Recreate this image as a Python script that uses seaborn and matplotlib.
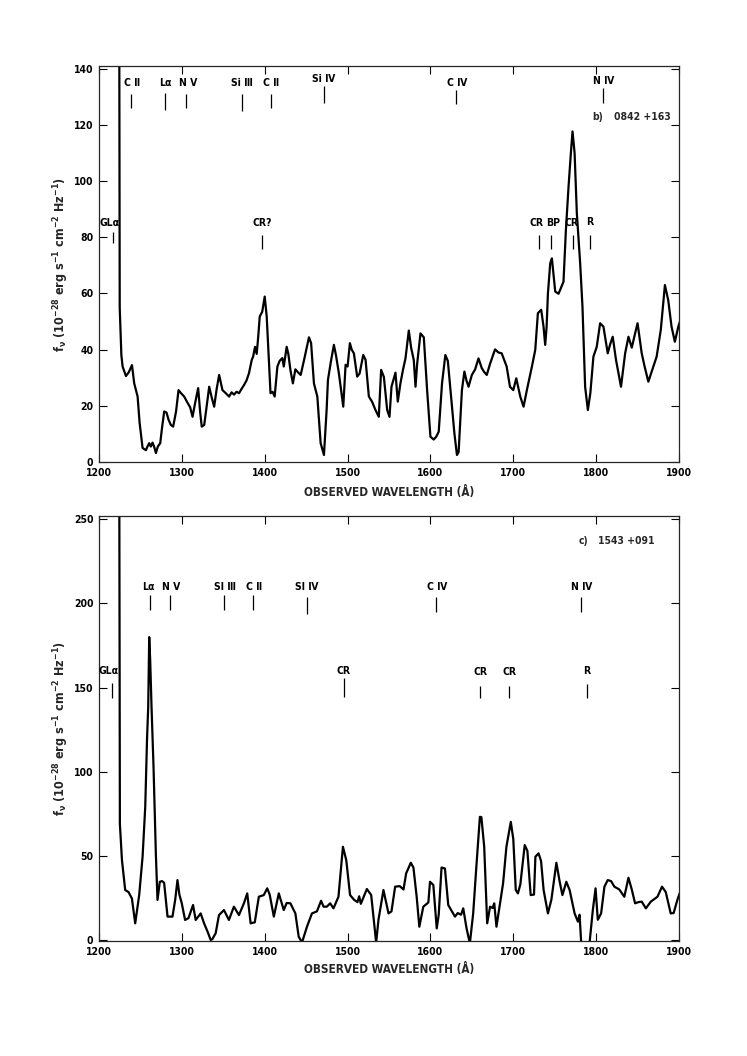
import numpy as np
import pandas as pd
import matplotlib
matplotlib.use("Agg")
import matplotlib.pyplot as plt
import seaborn as sns

# ---------------- data: panel b) 0842+163 ----------------
wave_b = [1224.5, 1225.0, 1226.0, 1227.0, 1228.5, 1232.5, 1236, 1239.8, 1242.5, 1246.6, 1249, 1252.6, 1256.6,
          1258.5, 1260.6, 1262.5, 1264.6, 1266.5, 1268.7, 1271, 1273.9, 1276, 1278.7, 1281.5, 1284, 1286.7,
          1289.5, 1293, 1296, 1299, 1302.8, 1307, 1310, 1312.9, 1316, 1319.7, 1322, 1324, 1327, 1330, 1333,
          1336, 1339, 1342, 1345, 1349, 1353, 1357, 1360, 1363, 1366, 1369, 1372, 1375, 1378, 1381, 1384.3,
          1386, 1388.3, 1390.3, 1392, 1394, 1397, 1400, 1402.4, 1405, 1407, 1409.5, 1412, 1415.3, 1418,
          1421.3, 1423, 1426.5, 1428.5, 1431, 1434, 1437, 1440, 1443.4, 1448, 1453.4, 1456, 1459.4, 1463.5,
          1467.5, 1471.5, 1474.7, 1476.3, 1480, 1483.5, 1486, 1489.5, 1494.8, 1497.6, 1500, 1502.8, 1505,
          1507.6, 1511.6, 1514.5, 1518.9, 1521.7, 1525.7, 1529.5, 1533.7, 1537.7, 1540.5, 1543.8, 1547.8,
          1550.6, 1553, 1557.8, 1560.6, 1563.8, 1567, 1569.9, 1573.9, 1576.7, 1579.9, 1582, 1584, 1588, 1592,
          1596, 1600, 1604, 1607, 1610, 1614, 1618, 1621, 1626, 1629, 1632, 1634, 1638, 1641, 1643.5, 1646,
          1650, 1654, 1658, 1662, 1665, 1668, 1672, 1678, 1682, 1686, 1692, 1696, 1700, 1703.6, 1708.4,
          1712.4, 1716.4, 1722.5, 1726.5, 1729.7, 1733.7, 1736.5, 1738.5, 1740.2, 1741.8, 1744.6, 1746.6,
          1750.6, 1754.6, 1760.6, 1763.5, 1766.7, 1769.5, 1771.5, 1774, 1776.7, 1780.7, 1783.5, 1786.7,
          1790, 1793, 1796.7, 1800.7, 1804.8, 1808.8, 1814, 1817, 1820, 1824, 1830, 1835, 1839, 1843, 1847,
          1850, 1855, 1858.5, 1863, 1868, 1873, 1878, 1883, 1887, 1891, 1895, 1899, 1903]
flux_b = [150, 55, 47, 38, 34, 30.6, 32, 34.5, 28, 23.3, 14, 5, 4.2,
          5.5, 6.7, 5.5, 6.9, 5.5, 3.2, 5.5, 6.7, 12, 18, 17.6, 15, 13.2,
          12.6, 18, 25.6, 24.5, 23.3, 21, 19.5, 16.1, 21, 26.3, 18, 12.6, 13.2, 20, 26.8,
          23, 19.7, 26, 31, 25.6, 24.5, 23.3, 24.8, 24, 25, 24.5, 26, 27.4, 29, 31.6, 36.3,
          37.5, 41, 38.5, 44, 51.8, 53.5, 58.9, 51.8, 36.3, 24.5, 25, 23.3, 34, 36,
          37, 34, 41, 38.5, 32.8, 28, 33, 32, 31, 37, 44.4, 42.3, 28, 23.3,
          6.7, 2.5, 18.5, 29.2, 36, 41.7, 38, 31.6, 19.7, 34.6, 34, 42.3, 40,
          38.7, 30.4, 31.5, 38.1, 36.4, 23.3, 21.5, 18.5, 16.1, 32.8, 30.3, 18.5,
          16.1, 26.8, 31.8, 21.5, 28, 33, 36.9, 46.8, 40.7, 36.3, 26.8, 35, 45.8, 44.4,
          25.6, 9, 8, 9, 10.8, 28, 38.1, 36, 19.7, 10, 2.5, 3.5, 25.6, 32.2, 29, 26.8,
          31, 33, 36.9, 33.4, 32, 31, 35, 40.1, 39, 38.7, 34, 26.8, 25.6, 29.8, 23.3,
          19.7, 25.6, 34, 39.9, 53, 54.2, 48.2, 41.7, 48, 60, 70.8, 72.5,
          60.7, 59.9, 64.2, 82.6, 98.1, 110, 117.7, 110, 88.6, 70.8, 55.3, 26.8,
          18.5, 24.5, 37.5, 41, 49.4, 48.2, 38.7, 42, 44.6, 36.3, 26.8, 38.7, 44.6, 40.7, 45.8,
          49.4, 38.7, 34, 28.6, 33, 37.5, 47, 63, 57.6, 48.2, 42.8, 48, 51.8]

# ---------------- data: panel c) 1543+091 ----------------
wave_c = [1224.5, 1225.2, 1227.7, 1231.6, 1235.6, 1239.7, 1243.7, 1248.5, 1252.6, 1255.8, 1258.0, 1259.4,
          1260.6, 1261.8, 1263.4, 1265.8, 1268.6, 1270.6, 1273.4, 1276, 1278.6, 1282.7, 1288.7, 1292,
          1294.7, 1297, 1299.9, 1303.9, 1308, 1313.5, 1316.7, 1322.7, 1326.8, 1331, 1334.8, 1336.8, 1340.8,
          1344.8, 1350.8, 1356.8, 1362.8, 1368.9, 1374.9, 1378.9, 1383, 1388, 1392.9, 1398.9, 1403, 1406,
          1411, 1417, 1423, 1426.5, 1431, 1437, 1441, 1445, 1451, 1457, 1463, 1468, 1471, 1475, 1479, 1483,
          1489, 1494.4, 1498.4, 1503, 1508, 1512, 1514, 1516, 1523.3, 1528.5, 1533.3, 1534.5, 1537.3,
          1543.3, 1549.4, 1553, 1557.4, 1563, 1567.5, 1570.7, 1576.3, 1579.5, 1583.4, 1586.6, 1591.4,
          1597.5, 1599.5, 1603.5, 1605.5, 1607.6, 1610, 1613.4, 1617.5, 1621.5, 1629.6, 1633, 1637, 1639.6,
          1643.6, 1647.6, 1651.6, 1655.7, 1659.7, 1661.5, 1664.9, 1668.5, 1672, 1675, 1677, 1679.7, 1683.5,
          1687.7, 1691.7, 1697, 1700, 1703, 1705.6, 1708.5, 1713.8, 1717, 1721, 1725, 1726.7, 1730.5,
          1733.5, 1736.6, 1741.8, 1746, 1752, 1756, 1759.3, 1764, 1768, 1774, 1778, 1780, 1782, 1792, 1796,
          1799.3, 1802, 1806, 1810, 1814, 1818, 1822, 1828, 1834, 1839, 1843, 1847, 1851, 1855, 1860, 1866,
          1874, 1879.5, 1884, 1890, 1893.5, 1898, 1901]
flux_c = [270, 69, 47.5, 29.7, 28.5, 24.7, 9.9, 26.7, 49.5, 79, 120, 138.5,
          180, 166, 138.5, 103, 51.5, 23.8, 34.6, 35, 34, 13.9, 13.9, 24,
          35.6, 27, 21.8, 11.9, 13, 20.8, 11.9, 15.8, 9.9, 5, 0, 0.5, 4,
          14.8, 17.8, 11.9, 19.8, 14.8, 21.8, 27.7, 9.9, 10.5, 25.7, 26.7, 30.7, 27,
          13.9, 27.7, 17.8, 22, 21.8, 15.8, 2, -1.5, 7.9, 15.8, 17, 23.3, 19.8, 19.8, 21.8, 18.8,
          25.7, 55.4, 47.5, 26.7, 23.8, 22.5, 26, 21.5, 30.3, 26.7, 4, -1.5, 12,
          29.7, 15.8, 17, 31.7, 32, 30, 39.6, 45.9, 43, 25.7, 7.9, 19.8,
          22.3, 34.6, 32.7, 20, 6.9, 15, 43.1, 42.5, 20.8, 13.9, 16, 15, 18.8,
          6.9, -2, 15.8, 45.5, 73.2, 73, 55.4, 9.9, 19.8, 19, 21.8, 7.9, 20,
          33.7, 55.4, 70.2, 60, 29.7, 27.7, 33, 56.4, 53, 26.7, 27, 49.5, 51.5,
          47, 29.7, 15.8, 24, 45.9, 34.6, 26.7, 34.6, 29.7, 15.8, 10.9, 15, -2, -2, 17.8,
          30.7, 12, 15.8, 31.7, 35.6, 35, 31.7, 30, 25.7, 37, 30, 21.8, 22.5, 22.8, 18.8, 22.8,
          25.7, 31.7, 28.5, 15.8, 16, 23.8, 28]

# ---------------- line identifications ----------------
# panel b: label, tick wavelength, label wavelength, text y, tick bottom, tick top
ids_b_label = ["C Ⅱ", "Lα", "N Ⅴ", "Si Ⅲ", "C Ⅱ", "Si Ⅳ", "C Ⅳ", "N Ⅳ",
               "GLα", "CR?", "CR", "BP", "CR", "R"]
ids_b_wave = [1238.5, 1280, 1305.6, 1372, 1407, 1471, 1631, 1808,
              1217, 1397, 1731, 1746, 1772, 1792]
ids_b_textx = [1240, 1280, 1307.5, 1373, 1408, 1471, 1632, 1809,
               1212.5, 1397, 1728.5, 1747.5, 1770.5, 1792]
ids_b_text = [135, 135, 135, 135, 135, 136.5, 135, 135.5,
              85, 85, 85, 85, 85, 85.5]
ids_b_lo = [126, 125.5, 126, 125, 126, 128, 127.5, 128,
            78, 76, 76, 76, 76, 76]
ids_b_hi = [131, 131.5, 131, 131, 131, 134, 132.5, 133,
            82, 81, 81, 81, 81, 81]

ids_c_label = ["GLα", "Lα", "N Ⅴ", "SI Ⅲ", "C Ⅱ", "SI Ⅳ", "C Ⅳ", "N Ⅳ",
               "CR", "CR", "CR", "R"]
ids_c_wave = [1216, 1261, 1285.5, 1350.6, 1386, 1450.6, 1607, 1781.5,
              1495.5, 1660, 1695, 1789]
ids_c_textx = [1212, 1260, 1287.5, 1352, 1387, 1451, 1608, 1782.5,
               1495.5, 1660, 1695, 1789]
ids_c_text = [160, 210, 210, 210, 210, 210, 210, 210,
              160, 159, 159, 160]
ids_c_lo = [144, 196, 196, 196, 196, 194, 195, 195,
            144.5, 144, 144, 144]
ids_c_hi = [153, 205, 205, 205, 205, 204, 204, 204,
            155.5, 151, 151, 152]

xticks = [1200, 1300, 1400, 1500, 1600, 1700, 1800, 1900]
yticks_b = [0, 20, 40, 60, 80, 100, 120, 140]
yticks_c = [0, 50, 100, 150, 200, 250]

# ---------------- style ----------------
sns.set_theme(style="ticks")
plt.rcParams['font.family'] = ['DejaVu Sans']
plt.rcParams['font.stretch'] = 'condensed'
plt.rcParams['mathtext.default'] = 'regular'

W, H = 747, 1056
fig = plt.figure(figsize=(W / 100, H / 100), dpi=100)
fig.patch.set_facecolor('white')

ax_b = fig.add_axes([99 / W, 1 - 462 / H, 580 / W, 396 / H])
ax_c = fig.add_axes([99 / W, 1 - 941 / H, 580 / W, 425 / H])

df_b = pd.DataFrame({"wave": wave_b, "flux": flux_b})
df_c = pd.DataFrame({"wave": wave_c, "flux": flux_c})

ylabel = r"f$_{\nu}$ (10$^{-28}$ erg s$^{-1}$ cm$^{-2}$ Hz$^{-1}$)"


def style_axis(ax, yticks, ylim):
    ax.set_facecolor('white')
    ax.set_xlim(1200, 1900)
    ax.set_ylim(*ylim)
    ax.set_xticks(xticks)
    ax.set_yticks(yticks)
    ax.tick_params(direction='in', length=6, width=0.8, top=True, right=True,
                   labelsize=7.5, pad=4, colors='black')
    for lbl in ax.get_xticklabels() + ax.get_yticklabels():
        lbl.set_fontweight('bold')
    for sp in ax.spines.values():
        sp.set_visible(True)
        sp.set_linewidth(0.9)
        sp.set_color('0.15')
    ax.set_xlabel("OBSERVED WAVELENGTH (Å)", fontsize=8.5, fontweight='bold')
    ax.set_ylabel(ylabel, fontsize=9, fontweight='bold')
    ax.yaxis.set_label_coords(-0.048, 0.5)


def draw_ids(ax, labels, waves, tx, ty, lo, hi):
    for lab, w, x, t, a, b in zip(labels, waves, tx, ty, lo, hi):
        ax.plot([w, w], [a, b], color='black', lw=0.9, solid_capstyle='butt')
        ax.text(x, t, lab, ha='center', va='center', fontsize=7.5, fontweight='bold',
                color='black')


sns.lineplot(data=df_b, x="wave", y="flux", ax=ax_b, color='black', lw=1.6,
             sort=False, estimator=None)
style_axis(ax_b, yticks_b, (0, 141))
ax_b.xaxis.set_label_coords(0.5, -0.06)
draw_ids(ax_b, ids_b_label, ids_b_wave, ids_b_textx, ids_b_text, ids_b_lo, ids_b_hi)
ax_b.text(1802, 123, "b)", ha='center', va='center', fontsize=7.5, fontweight='bold')
ax_b.text(1856, 123, "0842 +163", ha='center', va='center', fontsize=7.5, fontweight='bold')

sns.lineplot(data=df_c, x="wave", y="flux", ax=ax_c, color='black', lw=1.6,
             sort=False, estimator=None)
style_axis(ax_c, yticks_c, (-0.6, 252))
ax_c.xaxis.set_label_coords(0.5, -0.052)
draw_ids(ax_c, ids_c_label, ids_c_wave, ids_c_textx, ids_c_text, ids_c_lo, ids_c_hi)
ax_c.text(1785, 237, "c)", ha='center', va='center', fontsize=7.5, fontweight='bold')
ax_c.text(1836.5, 237, "1543 +091", ha='center', va='center', fontsize=7.5, fontweight='bold')

fig.savefig("out.png", dpi=100, facecolor='white')
